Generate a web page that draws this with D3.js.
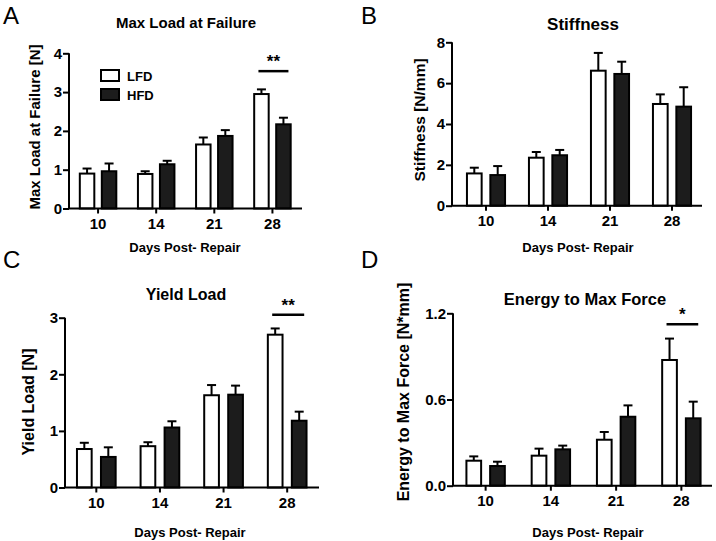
<!DOCTYPE html>
<html><head><meta charset="utf-8">
<script src="https://cdn.jsdelivr.net/npm/d3@7"></script>
<style>
body{margin:0;background:#fff;}
svg{display:block;font-family:"Liberation Sans",Arial,Helvetica,sans-serif;}
</style></head>
<body>
<svg id="chart" width="716" height="541"></svg>
<script>
// ---------- DATA ----------
const days = ["10", "14", "21", "28"];
const seriesNames = ["LFD", "HFD"];

const maxLoadLFD    = [0.90, 0.89, 1.65, 2.95];
const maxLoadLFDErr = [0.13, 0.07, 0.18, 0.12];
const maxLoadHFD    = [0.96, 1.14, 1.87, 2.17];
const maxLoadHFDErr = [0.20, 0.09, 0.15, 0.17];

const stiffLFD    = [1.58, 2.35, 6.61, 4.98];
const stiffLFDErr = [0.28, 0.28, 0.87, 0.47];
const stiffHFD    = [1.50, 2.47, 6.45, 4.85];
const stiffHFDErr = [0.44, 0.26, 0.60, 0.95];

const yieldLFD    = [0.68, 0.73, 1.63, 2.70];
const yieldLFDErr = [0.11, 0.07, 0.18, 0.11];
const yieldHFD    = [0.54, 1.06, 1.64, 1.18];
const yieldHFDErr = [0.17, 0.11, 0.16, 0.16];

const energyLFD    = [0.174, 0.209, 0.320, 0.875];
const energyLFDErr = [0.030, 0.049, 0.054, 0.149];
const energyHFD    = [0.137, 0.253, 0.480, 0.469];
const energyHFDErr = [0.030, 0.026, 0.079, 0.116];

const maxLoadTicks = [0, 1, 2, 3, 4];
const stiffTicks   = [0, 2, 4, 6, 8];
const yieldTicks   = [0, 1, 2, 3];
const energyTicks  = [0, 0.6, 1.2];

const xTitle = "Days Post- Repair";

// ---------- PANELS ----------
const panels = [
  {letter:"A", title:"Max Load at Failure", yTitle:"Max Load at Failure [N]",
   lfd:maxLoadLFD, lfdErr:maxLoadLFDErr, hfd:maxLoadHFD, hfdErr:maxLoadHFDErr,
   ticks:maxLoadTicks, fmt:d3.format("d"), sig:"**", sigLevel:3.54, legend:true,
   layout:{x0:69, x1:302, bx0:69, bx1:301.5, y0:208.5, yTop:53.3, barW:16.5, gap:5.5,
     letterX:3, letterY:23.5, titleX:186, titleY:27.5, titleSize:15, yTitleX:40, yTitleY:127,
     yTitleSize:15, xTitleX:185, xTitleY:252}},
  {letter:"B", title:"Stiffness", yTitle:"Stiffness [N/mm]",
   lfd:stiffLFD, lfdErr:stiffLFDErr, hfd:stiffHFD, hfdErr:stiffHFDErr,
   ticks:stiffTicks, fmt:d3.format("d"), sig:null, legend:false,
   layout:{x0:452, x1:702, bx0:455, bx1:703, y0:205.7, yTop:42.3, barW:16.7, gap:6.7,
     letterX:361, letterY:23.5, titleX:583, titleY:30, titleSize:17, yTitleX:425, yTitleY:120,
     yTitleSize:15.5, xTitleX:578, xTitleY:252}},
  {letter:"C", title:"Yield Load", yTitle:"Yield Load [N]",
   lfd:yieldLFD, lfdErr:yieldLFDErr, hfd:yieldHFD, hfdErr:yieldHFDErr,
   ticks:yieldTicks, fmt:d3.format("d"), sig:"**", sigLevel:3.05, legend:false,
   layout:{x0:65, x1:319, bx0:64.5, bx1:319, y0:487.5, yTop:317.7, barW:16.7, gap:7.3,
     letterX:3, letterY:268, titleX:186, titleY:300, titleSize:16, yTitleX:34, yTitleY:402,
     yTitleSize:16, xTitleX:190, xTitleY:537}},
  {letter:"D", title:"Energy to Max Force", yTitle:"Energy to Max Force [N*mm]",
   lfd:energyLFD, lfdErr:energyLFDErr, hfd:energyHFD, hfdErr:energyHFDErr,
   ticks:energyTicks, fmt:d3.format(".1f"), sig:"*", sigLevel:1.123, legend:false,
   layout:{x0:453, x1:712, bx0:453, bx1:714, y0:485.7, yTop:313.3, barW:16.7, gap:7,
     letterX:361, letterY:268, titleX:585, titleY:304.5, titleSize:16.5, yTitleX:409, yTitleY:392,
     yTitleSize:16, xTitleX:588, xTitleY:537}}
];

const svg = d3.select("#chart");
const dark = "#1c1c1c";

panels.forEach(p => {
  const L = p.layout;
  const g = svg.append("g");
  const yMax = p.ticks[p.ticks.length - 1];
  const y = d3.scaleLinear().domain([0, yMax]).range([L.y0, L.yTop]);
  const x = d3.scaleBand().domain(days).range([L.bx0, L.bx1]).padding(0);
  const half = L.gap / 2;
  const sx = d3.scaleOrdinal().domain(seriesNames)
    .range([-half - L.barW / 2, half + L.barW / 2]); // bar center offsets

  const rows = [];
  days.forEach((d, i) => {
    rows.push({day:d, s:"LFD", v:p.lfd[i], e:p.lfdErr[i]});
    rows.push({day:d, s:"HFD", v:p.hfd[i], e:p.hfdErr[i]});
  });
  const cx = r => x(r.day) + x.bandwidth() / 2 + sx(r.s);

  // error bars (upper only)
  const eg = g.append("g").attr("stroke", "#000").attr("stroke-width", 2);
  eg.selectAll("line.v").data(rows).join("line")
    .attr("x1", cx).attr("x2", cx)
    .attr("y1", r => y(r.v)).attr("y2", r => y(r.v + r.e));
  eg.selectAll("line.c").data(rows).join("line")
    .attr("x1", r => cx(r) - 4.5).attr("x2", r => cx(r) + 4.5)
    .attr("y1", r => y(r.v + r.e)).attr("y2", r => y(r.v + r.e));

  // bars
  g.selectAll("rect.bar").data(rows).join("rect")
    .attr("x", r => cx(r) - L.barW / 2 + 1)
    .attr("width", L.barW - 2)
    .attr("y", r => y(r.v))
    .attr("height", r => L.y0 - y(r.v))
    .attr("fill", r => r.s === "LFD" ? "#fff" : dark)
    .attr("stroke", "#000").attr("stroke-width", 2);

  // y axis
  const ya = g.append("g").attr("transform", `translate(${L.x0},0)`)
    .call(d3.axisLeft(y).tickValues(p.ticks).tickFormat(p.fmt).tickSize(6).tickSizeOuter(0).tickPadding(1));
  ya.select(".domain").attr("stroke-width", 2).attr("d", `M0,${L.y0}V${L.yTop}`);
  ya.selectAll(".tick line").attr("stroke-width", 2);
  ya.selectAll(".tick text").attr("font-size", 15).attr("font-weight", "bold").attr("fill", "#000")
    .attr("font-family", "Liberation Sans, Arial, sans-serif");

  // x axis
  const xa = g.append("g").attr("transform", `translate(0,${L.y0})`)
    .call(d3.axisBottom(x).tickSize(5).tickSizeOuter(0).tickPadding(5));
  xa.select(".domain").attr("stroke-width", 2).attr("d", `M${L.x0 - 1},0H${L.x1}`);
  xa.selectAll(".tick line").attr("stroke-width", 2);
  xa.selectAll(".tick text").attr("font-size", 15).attr("font-weight", "bold").attr("fill", "#000")
    .attr("font-family", "Liberation Sans, Arial, sans-serif");

  // titles
  g.append("text").attr("x", L.letterX).attr("y", L.letterY)
    .attr("font-size", 24).text(p.letter);
  g.append("text").attr("x", L.titleX).attr("y", L.titleY).attr("text-anchor", "middle")
    .attr("font-size", L.titleSize).attr("font-weight", "bold").text(p.title);
  g.append("text").attr("transform", `translate(${L.yTitleX},${L.yTitleY}) rotate(-90)`)
    .attr("text-anchor", "middle").attr("font-size", L.yTitleSize).attr("font-weight", "bold").text(p.yTitle);
  g.append("text").attr("x", L.xTitleX).attr("y", L.xTitleY).attr("text-anchor", "middle")
    .attr("font-size", 13).attr("font-weight", "bold").text(xTitle);

  // significance
  if (p.sig) {
    const last = days[days.length - 1];
    const c = x(last) + x.bandwidth() / 2;
    const xa1 = c + sx("LFD") - 3, xa2 = c + sx("HFD") + 5;
    const ys = y(p.sigLevel);
    g.append("line").attr("x1", xa1).attr("x2", xa2).attr("y1", ys).attr("y2", ys)
      .attr("stroke", "#000").attr("stroke-width", 2.5);
    g.append("text").attr("x", (xa1 + xa2) / 2).attr("y", ys - 4).attr("text-anchor", "middle")
      .attr("font-size", 17).attr("font-weight", "bold").text(p.sig);
  }

  // legend
  if (p.legend) {
    const lg = g.append("g");
    seriesNames.forEach((s, i) => {
      const ly = 70 + i * 19;
      lg.append("rect").attr("x", 101).attr("y", ly).attr("width", 18).attr("height", 11)
        .attr("fill", s === "LFD" ? "#fff" : dark).attr("stroke", "#000").attr("stroke-width", 2);
      lg.append("text").attr("x", 127).attr("y", ly + 10.5)
        .attr("font-size", 13).attr("font-weight", "bold").text(s);
    });
  }
});
</script>
</body></html>
